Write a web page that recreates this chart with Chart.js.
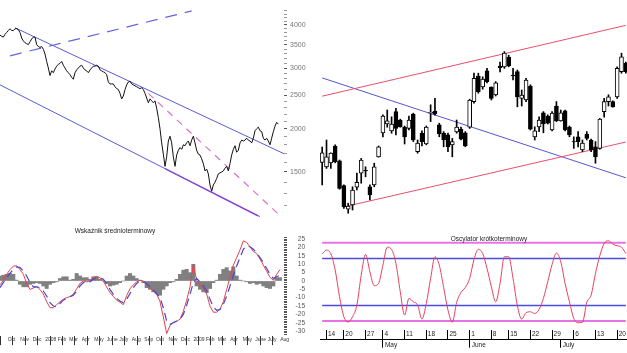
<!DOCTYPE html>
<html>
<head>
<meta charset="utf-8">
<script src="https://cdn.jsdelivr.net/npm/chart.js@4.4.1/dist/chart.umd.min.js"></script>
<style>
html, body { margin:0; padding:0; background:#fff; width:627px; height:353px; overflow:hidden; }
body { position:relative; }
canvas { position:absolute; }
.ttl { position:absolute; font:6.5px "Liberation Sans", Arial, sans-serif; line-height:7px; color:#222; white-space:nowrap; transform:translateX(-50%); }
</style>
</head>
<body>
<canvas id="wig" width="318" height="224" style="left:0;top:0"></canvas>
<canvas id="mid" width="305" height="129" style="left:0;top:224px"></canvas>
<canvas id="candles" width="308" height="220" style="left:320px;top:0"></canvas>
<canvas id="short" width="308" height="118" style="left:320px;top:235px"></canvas>
<div class="ttl" style="left:115px;top:227px">Wskaźnik średnioterminowy</div>
<div class="ttl" style="left:489px;top:235px">Oscylator krótkoterminowy</div>
<script>
// ---- long-term WIG20 line (left top) ----
const wigClose = [3735,3711,3688,3758,3805,3853,3901,3853,3853,3901,
  3901,3877,3805,3665,3597,3552,3530,3508,3574,3642,
  3688,3688,3508,3464,3443,3464,3400,3295,3135,3001,
  2854,2945,2908,2982,3038,3076,3096,3135,3057,3001,
  2945,2908,2872,2819,2784,2908,2963,3001,3038,3057,
  3001,2963,2945,2908,2963,3001,3038,3038,3057,3038,
  2963,2945,2926,2908,2872,2733,2698,2698,2698,2648,
  2615,2599,2534,2441,2488,2599,2681,2733,2749,2698,
  2681,2664,2648,2631,2615,2631,2599,2534,2456,2380,
  2441,2410,2380,2410,2294,2155,2000,1820,1688,1556,
  1658,1843,1903,1820,1658,1556,1678,1732,1764,1743,
  1797,1786,1820,1843,1786,1854,1903,1820,1732,1688,
  1678,1636,1586,1509,1528,1480,1374,1318,1374,1400,
  1435,1480,1490,1499,1509,1537,1556,1509,1586,1678,
  1743,1786,1710,1732,1820,1854,1843,1854,1878,1854,
  1843,1820,1878,1974,2000,2022,1974,1962,1878,1854,
  1878,1843,1797,1878,1962,2035,2088,2063];
const wigTickLabels = [1500, 2000, 2500, 3000, 3500, 4000];
const upperChannel = [[9, 3926], [171, 1688]];
const lowerChannel = [[0, 2681], [156, 1111]];
const lowerChannelEnd = [[99, 1533], [155, 1117]];
const upperDashed = [[6, 3255], [115, 4393]];
const crashDashed = [[89, 2534], [168, 1120]];

// ---- medium-term indicator (left bottom) ----
const midOsc = [-2.3,0.4,4.0,6.8,8.9,9.1,6.8,4.0,-1.4,-5.1,
  -4.2,-3.3,-5.1,-7.8,-12.4,-16.0,-16.0,-14.2,-12.4,-10.9,
  -10.0,-9.3,-7.8,-4.7,-1.4,0.0,-0.5,0.0,2.2,2.7,
  1.9,0.0,-3.6,-6.9,-9.3,-11.5,-12.7,-14.2,-8.7,-4.7,
  -2.3,-0.5,0.4,0.0,-1.8,-4.2,-6.0,-7.8,-12.4,-21.5,
  -31.5,-26.6,-24.8,-24.2,-22.9,-18.2,-11.5,-3.6,9.8,0.4,
  -2.3,-4.2,-7.8,-15.1,-18.7,-18.7,-16.9,-12.4,-5.1,2.2,
  9.5,14.0,18.6,24.0,23.1,20.4,17.7,16.4,13.1,9.5,
  5.8,2.2,0.4,4.0,6.8];
const midSignal = [-4,-1,2,4.5,7,8.5,8,6,3,-1,
  -3.5,-3.5,-4,-6,-9,-13,-15,-15.5,-13.5,-11.5,
  -10.5,-9.5,-8.5,-6,-3,-1,-0.5,-0.5,1,2,
  2,1,-1.5,-5,-8,-10.5,-12,-13,-11,-7.5,
  -4,-1.5,0,-0.5,-1.5,-3.5,-5.5,-7.5,-10,-16,
  -24,-26,-25,-24,-23,-20,-14.5,-8,-1,1.5,
  -0.5,-3,-6,-11,-15.5,-17.5,-17,-14,-9,-3,
  3.5,9,14,19,21,20.5,19,17,14,11,
  7.5,4,1.5,2.5,3.5];
const midHist = [3,3.5,4,4.5,4,0.5,-2,-3.5,-3.5,-2,
  -1.5,-1,-1.5,-3,-4.5,-2,-1,-0.5,1.5,2.5,
  2.5,0.5,1,4.5,3,2,2,1,2.5,2.5,
  1,0,-1.5,-3,-2.5,-2,-1,0,3,4.5,
  3,1.5,0.5,-1,-4,-5,-6.5,-7.5,-8.5,-5,
  -3,-1,-0.5,1,4,6.5,7,5,10,-3,
  -5,-6.5,-7,-4.5,-1,0.5,4,7,8,6,
  8.5,3,0.5,0,-0.5,-1.5,-1,-2,-1.5,-3,
  -4,-4.5,-3,2,2];
const midTickLabels = [25, 20, 15, 10, 5, 0, -5, -10, -15, -20, -25, -30];
const midMonthPos = [4, 11.5, 19, 26.5, 34, 41, 48.5, 56, 63.5, 71, 78.5, 86, 93, 100.5, 108, 115.5, 123, 130, 137.5, 145, 152.5, 160, 167.5];
const midMonthLabels = ['Oct','Nov','Dec','2008','Feb','Mar','Apr','May','June','July','Aug','Sep','Oct','Nov','Dec','2009','Feb','Mar','Apr','May','June','July','Aug'];

// ---- daily candles 2009 (right top) ----
const sessionDates = ['04-09','04-14','04-15','04-16','04-17','04-20','04-21','04-22','04-23','04-24',
  '04-27','04-28','04-29','04-30','05-04','05-05','05-06','05-07','05-08','05-11',
  '05-12','05-13','05-14','05-15','05-18','05-19','05-20','05-21','05-22','05-25',
  '05-26','05-27','05-28','05-29','06-01','06-02','06-03','06-04','06-05','06-08',
  '06-09','06-10','06-12','06-15','06-16','06-17','06-18','06-19','06-22','06-23',
  '06-24','06-25','06-26','06-29','06-30','07-01','07-02','07-03','07-06','07-07',
  '07-08','07-09','07-10','07-13','07-14','07-15','07-16','07-17','07-20','07-21','07-22'];
const opens = [1794,1783,1793,1835,1798,1736,1677,1688,1732,1767,
  1774,1733,1738,1808,1868,1890,1873,1921,1900,1882,
  1879,1915,1821,1867,1840,1917,1922,1888,1867,1863,
  1838,1870,1877,1868,1882,1946,2010,1983,2023,1982,
  1963,2035,2033,2057,2012,2021,1954,1950,1985,1858,
  1883,1918,1910,1875,1935,1898,1923,1882,1846,1858,
  1825,1865,1850,1833,1829,1921,1946,1946,1958,2021,2042];
const highs = [1832,1850,1818,1838,1800,1738,1692,1733,1767,1804,
  1783,1738,1792,1835,1913,1925,1908,1929,1902,1885,
  1910,1917,1850,1873,1885,1938,1954,1892,1871,1867,
  1854,1900,1882,1871,1952,2017,2017,2008,2029,1983,
  1996,2045,2071,2062,2029,2025,1975,2004,1988,1883,
  1908,1921,1913,1921,1946,1925,1925,1885,1858,1871,
  1850,1871,1852,1846,1904,1954,1963,1948,2033,2067,2045];
const lows = [1738,1779,1779,1793,1727,1679,1667,1675,1725,1742,
  1758,1700,1733,1807,1858,1882,1867,1863,1882,1840,
  1875,1846,1817,1835,1838,1896,1912,1858,1833,1821,
  1808,1867,1850,1833,1879,1942,1967,1977,1993,1950,
  1960,2020,2029,2033,2000,1933,1935,1946,1875,1850,
  1871,1868,1890,1873,1896,1897,1873,1858,1829,1833,
  1821,1850,1821,1792,1827,1907,1935,1932,1954,2017,2017];
const closes = [1818,1808,1817,1796,1729,1683,1685,1725,1744,1800,
  1773,1713,1783,1833,1910,1898,1890,1879,1883,1858,
  1900,1850,1842,1846,1882,1919,1915,1865,1850,1833,
  1846,1882,1852,1835,1950,2004,1971,2002,1996,1954,
  1993,2031,2067,2035,2010,1958,1962,2000,1877,1873,
  1900,1890,1892,1917,1898,1918,1875,1863,1845,1846,
  1842,1854,1825,1808,1902,1946,1958,1933,2029,2058,2021];
const upperRed = [['04-09', 1959.5], ['07-22', 2136.7]];
const lowerRed = [['04-20', 1682.7], ['07-22', 1845]];
const blueDown = [['04-09', 2005.2], ['07-22', 1755.5]];

// ---- short-term oscillator (right bottom) ----
const shortOsc = [86.0,90.7,86.0,65.2,31.1,5.6,-1.2,5.6,20.5,58.8,
  85.2,63.0,45.2,48.1,71.5,94.5,91.6,73.7,37.5,7.7,
  29.0,24.7,20.5,2.6,22.6,54.5,82.2,71.5,43.0,14.1,
  -1.6,23.9,36.6,43.0,54.5,78.8,91.6,86.4,67.3,43.9,
  24.7,48.1,82.2,82.2,54.5,19.6,2.6,10.7,11.9,9.8,
  14.9,29.0,50.3,72.4,86.9,75.8,48.1,24.7,3.4,-2.1,
  -1.6,23.9,33.2,60.9,83.5,99.2,102.6,98.4,96.2,94.5,86.4];
const outerLevels = [100, 0];
const innerLevels = [80, 20];
const dayTicks = ['04-14','04-20','04-27','05-04','05-11','05-18','05-25','06-01','06-08','06-15','06-22','06-29','07-06','07-13','07-20'];
const monthTicks = ['05-04','06-01','07-01'];
const monthNames = ['May','June','July'];

Chart.defaults.font.family = '"Liberation Sans", Arial, sans-serif';
Chart.defaults.animation = false;
Chart.defaults.elements.point.radius = 0;
Chart.defaults.plugins.legend.display = false;
Chart.defaults.plugins.tooltip.enabled = false;

function seg(points, color, dash, width) {
  return {
    type: 'line',
    data: points.map(p => ({ x: p[0], y: p[1] })),
    borderColor: color, borderWidth: width || 1, borderDash: dash || [],
    clip: 0, order: 5
  };
}

// Left top: log price chart with channel
new Chart(document.getElementById('wig'), {
  type: 'line',
  data: {
    datasets: [
      { data: wigClose.map((v, i) => ({ x: i, y: v })), borderColor: '#111', borderWidth: 1, clip: 0, order: 1 },
      seg(upperChannel, '#5a5ad8'),
      seg(lowerChannel, '#5a5ad8'),
      seg(lowerChannelEnd, '#cc3fd0', [], 1.5),
      seg(upperDashed, '#6464dc', [12, 8], 1.2),
      seg(crashDashed, '#d872cc', [7, 6], 1.2)
    ]
  },
  options: {
    responsive: false,
    layout: { padding: 0 },
    scales: {
      x: { type: 'linear', display: false, min: 0, max: 170.4 },
      y: {
        type: 'logarithmic', position: 'right', min: 1111, max: 4504,
        afterBuildTicks: s => {
          const t = [];
          for (let v = 1200; v <= 4400; v += 100) t.push({ value: v });
          s.ticks = t;
        },
        afterFit: s => { s.width = 34; },
        border: { display: false },
        grid: {
          drawOnChartArea: false, tickLength: 3,
          color: c => (c.tick && wigTickLabels.includes(c.tick.value)) ? '#555' : '#999'
        },
        ticks: {
          autoSkip: false, padding: 3, color: '#777', font: { size: 7 },
          callback: v => wigTickLabels.includes(v) ? String(v) : ''
        }
      }
    }
  }
});

// Left bottom: medium-term indicator
new Chart(document.getElementById('mid'), {
  type: 'line',
  data: {
    datasets: [
      { type: 'bar', data: midHist.map((v, k) => ({ x: 2 * k, y: v })), backgroundColor: '#808080',
        barPercentage: 1, categoryPercentage: 1, order: 3 },
      { data: midOsc.map((v, k) => ({ x: 2 * k, y: v })), borderColor: '#e8404a', borderWidth: 1, order: 2 },
      { data: midSignal.map((v, k) => ({ x: 2 * k, y: v })), borderColor: '#4646d4', borderWidth: 1.2,
        borderDash: [8, 5], order: 1 }
    ]
  },
  options: {
    responsive: false,
    layout: { padding: { top: 2.3 } },
    scales: {
      x: {
        type: 'linear', min: 0, max: 170.4, offset: false,
        afterBuildTicks: s => { s.ticks = midMonthPos.map(v => ({ value: v })); },
        afterFit: s => { s.height = 16.9; },
        border: { display: false },
        grid: { drawOnChartArea: false, tickLength: 9, color: '#333' },
        ticks: {
          autoSkip: false, maxRotation: 0, align: 'start', padding: -8, labelOffset: 1,
          color: '#333', font: { size: 5 },
          callback: (v, i) => midMonthLabels[i]
        }
      },
      y: {
        position: 'right', min: -33, max: 27,
        afterBuildTicks: s => {
          const t = [];
          for (let v = -32; v <= 26; v++) t.push({ value: v });
          s.ticks = t;
        },
        afterFit: s => { s.width = 21; },
        border: { display: false },
        grid: { drawOnChartArea: false, tickLength: 3, color: '#555' },
        ticks: {
          autoSkip: false, crossAlign: 'far', padding: 8, color: '#555', font: { size: 6.5 },
          callback: v => midTickLabels.includes(v) ? String(v) : ''
        }
      }
    }
  }
});

// Right top: candlesticks with channel
new Chart(document.getElementById('candles'), {
  type: 'bar',
  data: {
    labels: sessionDates,
    datasets: [
      seg(upperRed, '#e8506a'),
      seg(lowerRed, '#e8506a'),
      seg(blueDown, '#5555d6'),
      { data: lows.map((l, i) => [l, highs[i]]), backgroundColor: '#000', barThickness: 1, grouped: false, order: 2 },
      { data: opens.map((o, i) => [o, closes[i]]),
        backgroundColor: closes.map((c, i) => c >= opens[i] ? '#fff' : '#000'),
        borderColor: '#000', borderWidth: 1, borderSkipped: false, barThickness: 4, grouped: false, order: 1 }
    ]
  },
  options: {
    responsive: false,
    layout: { padding: 0 },
    scales: {
      x: { display: false, offset: true },
      y: { display: false, min: 1650, max: 2200 }
    }
  }
});

// Right bottom: short-term oscillator
new Chart(document.getElementById('short'), {
  type: 'line',
  data: {
    labels: sessionDates,
    datasets: [
      { data: shortOsc, borderColor: '#e8405c', borderWidth: 1, cubicInterpolationMode: 'monotone', order: 1 },
      ...outerLevels.map(v => ({ data: sessionDates.map(() => v), borderColor: '#e673e6', borderWidth: 2, order: 3 })),
      ...innerLevels.map(v => ({ data: sessionDates.map(() => v), borderColor: '#4b4be0', borderWidth: 1.5, order: 2 }))
    ]
  },
  options: {
    responsive: false,
    layout: { padding: 0 },
    scales: {
      x: {
        offset: true, weight: 0,
        afterBuildTicks: s => { s.ticks = dayTicks.map(d => ({ value: sessionDates.indexOf(d) })); },
        afterFit: s => { s.height = 10; },
        border: { display: false },
        grid: { offset: false, drawOnChartArea: false, tickLength: 10, color: '#000' },
        ticks: {
          autoSkip: false, maxRotation: 0, align: 'start', padding: -9, labelOffset: 1.5,
          color: '#222', font: { size: 6.5 },
          callback: v => String(Number(sessionDates[v].slice(3)))
        }
      },
      x2: {
        type: 'category', position: 'bottom', offset: true, weight: 1,
        afterBuildTicks: s => { s.ticks = monthTicks.map(d => ({ value: sessionDates.indexOf(d) })); },
        afterFit: s => { s.height = 13.3; },
        border: { display: true, color: '#000', width: 1 },
        grid: { offset: false, drawOnChartArea: false, tickLength: 8, color: '#000' },
        ticks: {
          autoSkip: false, maxRotation: 0, align: 'start', padding: -6, labelOffset: 2,
          color: '#222', font: { size: 6.5 },
          callback: (v, i) => monthNames[i]
        }
      },
      y: { display: false, min: -11, max: 110 }
    }
  }
});
</script>
</body>
</html>
